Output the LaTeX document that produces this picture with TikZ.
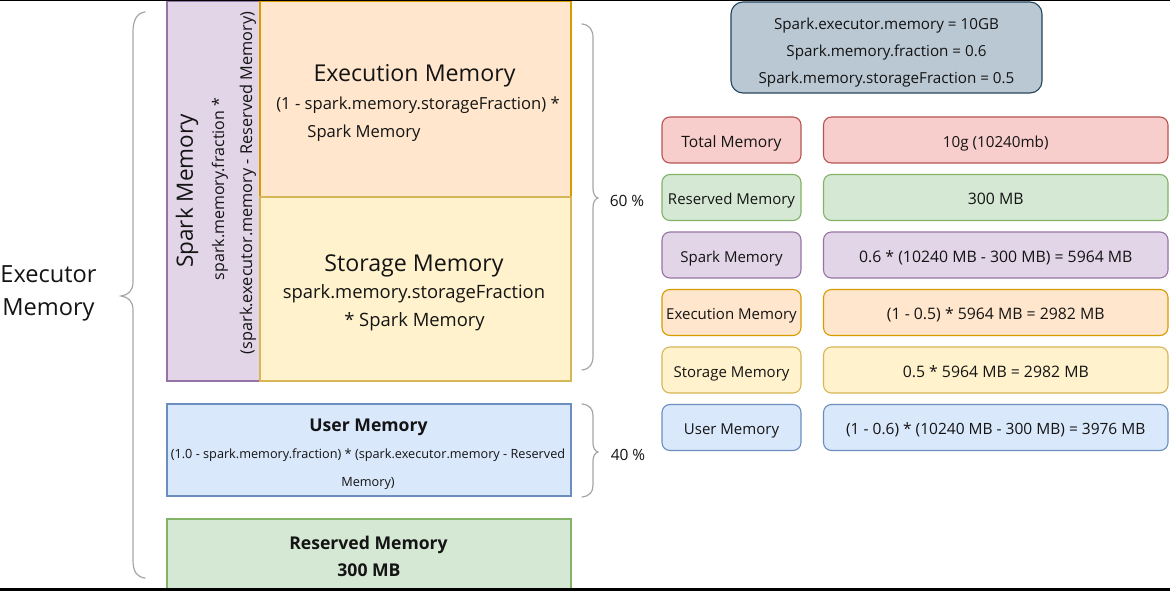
\documentclass[tikz,border=0pt]{standalone}
\usepackage{fontspec}
\setmainfont{Open Sans}
\definecolor{redF}{HTML}{F8CECC}\definecolor{redD}{HTML}{B85450}
\definecolor{greenF}{HTML}{D5E8D4}\definecolor{greenD}{HTML}{82B366}
\definecolor{purpF}{HTML}{E1D5E7}\definecolor{purpD}{HTML}{9673A6}
\definecolor{orF}{HTML}{FFE6CC}\definecolor{orD}{HTML}{D79B00}
\definecolor{yeF}{HTML}{FFF2CC}\definecolor{yeD}{HTML}{D6B656}
\definecolor{blF}{HTML}{DAE8FC}\definecolor{blD}{HTML}{6C8EBF}
\definecolor{grF}{HTML}{BAC8D3}\definecolor{grD}{HTML}{23445D}
\definecolor{braceC}{HTML}{A6A6A6}
\definecolor{txt}{HTML}{141414}
\newcommand\fs[1]{\fontsize{#1}{#1}\selectfont}
\begin{document}
\begin{tikzpicture}[x=1pt,y=-1pt,
  memblock/.style={draw, line width=1.1pt, inner sep=0pt, outer sep=0pt},
  tabbox/.style={draw, line width=1.1pt, rounded corners=8pt, inner sep=0pt, minimum height=46pt, text=txt, font=\fs{15}, text height=16pt, text depth=1.6pt},
  lbl/.style={inner sep=0pt, text=txt, yshift=-2.5pt},
  bracestyle/.style={draw=braceC, line width=1.2pt, line cap=round}]
\useasboundingbox (0,0) rectangle (1170,591);
\fill[white] (0,0) rectangle (1170,591);

% left memory blocks
\node[memblock, fill=purpF, draw=purpD, minimum width=93pt, minimum height=380pt] (spark) at (213.5,191) {};
\node[memblock, fill=orF, draw=orD, minimum width=311pt, minimum height=196pt] (exec) at (415.5,99) {};
\node[memblock, fill=yeF, draw=yeD, minimum width=311pt, minimum height=184pt] (stor) at (415.5,289) {};
\node[memblock, fill=blF, draw=blD, minimum width=404pt, minimum height=92pt] (user) at (369,450) {};
\node[memblock, fill=greenF, draw=greenD, minimum width=404pt, minimum height=75pt] (resv) at (369,556.5) {};

% spark memory vertical texts
\node[inner sep=0pt, text=txt, rotate=90, font=\fs{22.5}] (sparkT) at (187,191) {Spark Memory};
\node[inner sep=0pt, text=txt, rotate=90, font=\fs{16}] (sparkF1) at (220,189) {spark.memory.fraction *};
\node[inner sep=0pt, text=txt, rotate=90, font=\fs{16.3}] (sparkF2) at (248,183) {(spark.executor.memory - Reserved Memory)};

% execution
\node[lbl, font=\fs{23.2}] (execT) at (414.5,73) {Execution Memory};
\node[lbl, font=\fs{16.6}] (execF1) at (418,103) {(1 - spark.memory.storageFraction) *};
\node[lbl, font=\fs{16.6}] (execF2) at (364,131) {Spark Memory};

% storage
\node[lbl, font=\fs{23.2}] (storT) at (414,263) {Storage Memory};
\node[lbl, font=\fs{18.4}] (storF1) at (414,291) {spark.memory.storageFraction};
\node[lbl, font=\fs{18.4}] (storF2) at (414.5,319) {* Spark Memory};

% user
\node[lbl, font=\bfseries\fs{17.6}] (userT) at (368.5,425) {User Memory};
\node[lbl, font=\fs{12.7}] (userF1) at (368,453) {(1.0 - spark.memory.fraction) * (spark.executor.memory - Reserved};
\node[lbl, font=\fs{12.7}] (userF2) at (368,481) {Memory)};

% reserved
\node[lbl, font=\bfseries\fs{17.6}] (resvT) at (368.5,542) {Reserved Memory};
\node[lbl, font=\bfseries\fs{17.6}] (resvV) at (369,568) {300 MB};

% executor memory label and brace
\node[lbl, font=\fs{23.6}, align=center] (execmem) at (48.5,291) {Executor\\[10pt]Memory};
\draw[bracestyle] (145,12) .. controls (137,13) and (133,20) .. (133,32) -- (133,282)
  .. controls (133,291) and (128,295) .. (121,296) .. controls (128,297) and (133,301) .. (133,310)
  -- (133,560) .. controls (133,572) and (137,577) .. (145,578);

% 60% brace
\draw[bracestyle] (582,24) .. controls (590,25) and (593,30) .. (593,38) -- (593,188)
  .. controls (593,194) and (595,197) .. (598,198) .. controls (595,199) and (593,202) .. (593,208)
  -- (593,356) .. controls (593,364) and (590,369) .. (582,370);
\node[lbl, font=\fs{15.5}] (p60) at (627,198) {60 \%};

% 40% brace
\draw[bracestyle] (582,404) .. controls (590,405) and (593,409) .. (593,416) -- (593,443)
  .. controls (593,448) and (595,451) .. (598,452) .. controls (595,453) and (593,456) .. (593,461)
  -- (593,485) .. controls (593,492) and (590,496) .. (582,497);
\node[lbl, font=\fs{15.5}] (p40) at (628,452) {40 \%};

% parameters box
\node[draw=grD, fill=grF, line width=1.1pt, rounded corners=12pt, minimum width=311pt, minimum height=91pt, inner sep=0pt] (params) at (886.5,47.5) {};
\node[lbl, align=center, font=\fs{15.2}] (paramsT) at (886.5,50)
  {Spark.executor.memory = 10GB\\[11.3pt]Spark.memory.fraction = 0.6\\[11.3pt]Spark.memory.storageFraction = 0.5};

% table
\node[tabbox, fill=redF, draw=redD, minimum width=139pt, font=\fs{15.6}] (tTotal) at (731.5,140) {Total Memory};
\node[tabbox, fill=redF, draw=redD, minimum width=344.5pt, font=\fs{15.2}] (vTotal) at (995.75,140) {10g (10240mb)};
\node[tabbox, fill=greenF, draw=greenD, minimum width=139pt] (tResv) at (731.5,197.5) {Reserved Memory};
\node[tabbox, fill=greenF, draw=greenD, minimum width=344.5pt, font=\fs{15.8}] (vResv) at (995.75,197.5) {300 MB};
\node[tabbox, fill=purpF, draw=purpD, minimum width=139pt] (tSpark) at (731.5,255) {Spark Memory};
\node[tabbox, fill=purpF, draw=purpD, minimum width=344.5pt, font=\fs{15.8}] (vSpark) at (995.75,255) {0.6 * (10240 MB - 300 MB) = 5964 MB};
\node[tabbox, fill=orF, draw=orD, minimum width=139pt] (tExec) at (731.5,312.5) {Execution Memory};
\node[tabbox, fill=orF, draw=orD, minimum width=344.5pt, font=\fs{15.8}] (vExec) at (995.75,312.5) {(1 - 0.5) * 5964 MB = 2982 MB};
\node[tabbox, fill=yeF, draw=yeD, minimum width=139pt] (tStor) at (731.5,370) {Storage Memory};
\node[tabbox, fill=yeF, draw=yeD, minimum width=344.5pt, font=\fs{15.8}] (vStor) at (995.75,370) {0.5 * 5964 MB = 2982 MB};
\node[tabbox, fill=blF, draw=blD, minimum width=139pt] (tUser) at (731.5,427.5) {User Memory};
\node[tabbox, fill=blF, draw=blD, minimum width=344.5pt, font=\fs{15.5}] (vUser) at (995.75,427.5) {(1 - 0.6) * (10240 MB - 300 MB) = 3976 MB};

% frame bands
\fill[black] (0,0) rectangle (1170,1.5);
\fill[black] (0,587.5) rectangle (1170,591);
\end{tikzpicture}
\end{document}
